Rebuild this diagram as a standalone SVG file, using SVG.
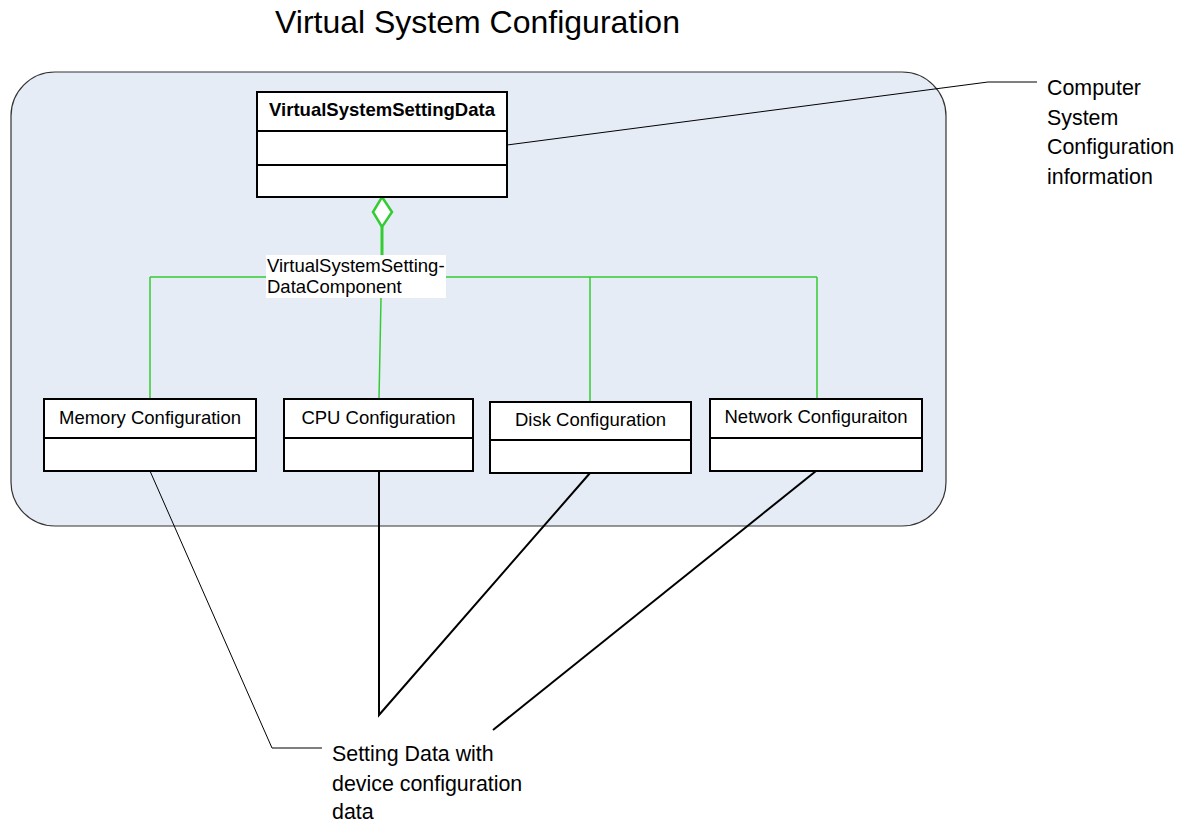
<svg xmlns="http://www.w3.org/2000/svg" width="1178" height="822" viewBox="0 0 1178 822">
<style>
text{font-family:"Liberation Sans",Arial,sans-serif;font-size:18.5px;fill:#000}
.note{font-size:21.4px}
.box{fill:#fff;stroke:#000;stroke-width:2}
.g{stroke:#33CC33;stroke-width:1.5;fill:none}
.k{stroke:#000;fill:none}
</style>
<rect width="1178" height="822" fill="#fff"/>
<text x="275" y="33" style="font-size:32px">Virtual System Configuration</text>
<g id="container">
<rect x="11" y="72" width="935" height="454" rx="44" ry="44" fill="#E6ECF6" stroke="#333" stroke-width="1.2"/>
</g>
<g id="connectors">
<path class="g" d="M150,277 H817 M150,277 V399 M381,298 L379,399 M590,277 V401 M817,277 V399"/>
<path d="M382,227 V256" stroke="#33CC33" stroke-width="3" fill="none"/>
<path d="M382,197 L392,212 L382,227 L373,212 Z" fill="#fff" stroke="#33CC33" stroke-width="2.5"/>
<path class="k" stroke-width="1" d="M507,145 L988,82 H1037"/>
<path class="k" stroke-width="1" d="M150,471 L272,748 H322"/>
<path class="k" stroke-width="2" d="M379,471 V715 L590,473"/>
<path class="k" stroke-width="2" d="M816,471 L493,730"/>
</g>
<g id="vssd">
<rect class="box" x="257" y="92" width="250" height="105"/>
<path d="M257,131 H507 M257,165 H507" stroke="#000" stroke-width="2"/>
<text x="382" y="116" text-anchor="middle" font-weight="bold">VirtualSystemSettingData</text>
</g>
<g id="component-label">
<rect x="266" y="255" width="180" height="43" fill="#fff"/>
<text x="267" y="272">VirtualSystemSetting-</text>
<text x="267" y="293">DataComponent</text>
</g>
<g id="memory">
<rect class="box" x="44" y="399" width="212" height="72"/>
<path d="M44,438 H256" stroke="#000" stroke-width="2"/>
<text x="150" y="424" text-anchor="middle">Memory Configuration</text>
</g>
<g id="cpu">
<rect class="box" x="284" y="399" width="189" height="72"/>
<path d="M284,438 H473" stroke="#000" stroke-width="2"/>
<text x="378.5" y="424" text-anchor="middle">CPU Configuration</text>
</g>
<g id="disk">
<rect class="box" x="490" y="402" width="201" height="71"/>
<path d="M490,440 H691" stroke="#000" stroke-width="2"/>
<text x="590.5" y="426" text-anchor="middle">Disk Configuration</text>
</g>
<g id="network">
<rect class="box" x="710" y="399" width="212" height="72"/>
<path d="M710,438 H922" stroke="#000" stroke-width="2"/>
<text x="816" y="423" text-anchor="middle">Network Configuraiton</text>
</g>
<g id="note-computer">
<text class="note" x="1047" y="95">Computer</text>
<text class="note" x="1047" y="124.7">System</text>
<text class="note" x="1047" y="154.4">Configuration</text>
<text class="note" x="1047" y="184">information</text>
</g>
<g id="note-setting">
<text class="note" x="332" y="761">Setting Data with</text>
<text class="note" x="332" y="791">device configuration</text>
<text class="note" x="332" y="818.5">data</text>
</g>
</svg>
